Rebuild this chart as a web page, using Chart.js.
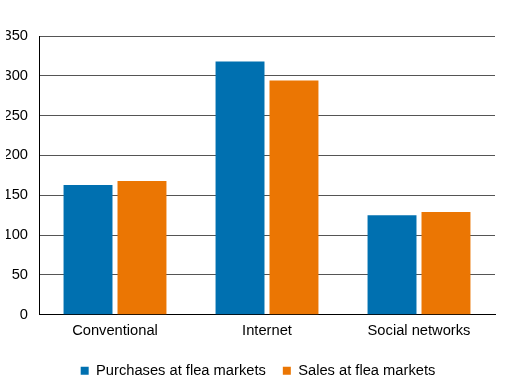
<!DOCTYPE html>
<html>
<head>
<meta charset="utf-8">
<script src="https://cdn.jsdelivr.net/npm/chart.js@4"></script>
<style>
    html, body { margin: 0; padding: 0; background: #fff; }
    #box { width: 510px; height: 391px; }
</style>
</head>
<body>
<div id="box"><canvas id="grafico"></canvas></div>
<script>
// dados
const categorias = ['Conventional', 'Internet', 'Social networks'];
const compras = [163, 318, 125];
const vendas = [168, 294, 129];
const ticksY = [0, 50, 100, 150, 200, 250, 300, 350];

const fonte = { family: 'Liberation Sans, Arial, sans-serif', size: 14.7 };

new Chart(document.getElementById('grafico'), {
    type: 'bar',
    data: {
        labels: categorias,
        datasets: [
            { label: 'Purchases at flea markets', data: compras, backgroundColor: '#0070B0' },
            { label: 'Sales at flea markets', data: vendas, backgroundColor: '#EB7603' }
        ]
    },
    options: {
        responsive: true,
        maintainAspectRatio: false,
        animation: false,
        datasets: { bar: { categoryPercentage: 0.71, barPercentage: 0.907 } },
        layout: { padding: { top: 36, right: 0, left: 6, bottom: 3 } },
        plugins: {
            legend: {
                position: 'bottom',
                labels: {
                    font: fonte,
                    color: '#000',
                    boxWidth: 8,
                    boxHeight: 8,
                    padding: 17
                }
            },
            tooltip: { enabled: false }
        },
        scales: {
            x: {
                grid: { display: false, drawTicks: false },
                border: { color: '#000', width: 1 },
                ticks: { font: fonte, color: '#000', padding: 7 }
            },
            y: {
                min: 0,
                max: 350,
                afterBuildTicks: axis => { axis.ticks = ticksY.map(v => ({ value: v })); },
                afterFit: axis => { axis.width = 33; },
                grid: { color: '#555', drawTicks: false },
                border: { color: '#000', width: 1 },
                ticks: { font: fonte, color: '#000', padding: 11 }
            },
            // eixo vazio só para reservar espaço à direita
            y2: {
                position: 'right',
                afterFit: axis => { axis.width = 15; },
                grid: { display: false, drawTicks: false },
                border: { display: false },
                ticks: { display: false }
            }
        }
    }
});
</script>
</body>
</html>
